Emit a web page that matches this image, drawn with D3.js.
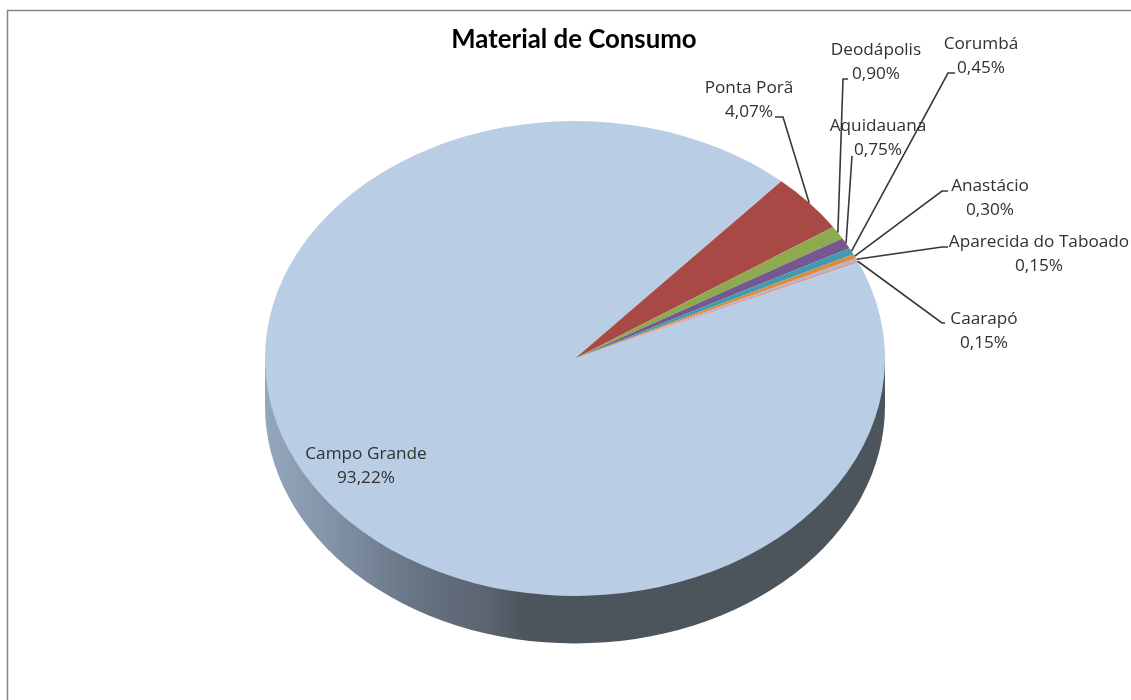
<!DOCTYPE html>
<html>
    <head>
        <title>Material de Consumo</title>
        <meta charset="UTF-8">
        <script src="https://d3js.org/d3.v7.min.js" charset="utf-8"></script>
        <style>
            html, body { margin: 0; padding: 0; background: #fff; }
            svg { display: block; }
            text { font-family: "Open Sans", sans-serif; font-size: 17.2px; fill: #303030; text-anchor: middle; }
            .title { font-family: Lato, sans-serif; font-weight: 700; font-size: 25.8px; fill: #000; }
        </style>
    </head>
    <body>
        <script>
            var categories = ["Campo Grande", "Ponta Porã", "Deodápolis", "Aquidauana", "Corumbá", "Anastácio", "Aparecida do Taboado", "Caarapó"];
            var values = [93.22, 4.07, 0.90, 0.75, 0.45, 0.30, 0.15, 0.15];
            var percentLabels = ["93,22%", "4,07%", "0,90%", "0,75%", "0,45%", "0,30%", "0,15%", "0,15%"];
            var colors = ["#b9cde5", "#a94a45", "#8eaa4f", "#75588f", "#3f9ab0", "#e08a3c", "#a3b6da", "#d79a98"];

            // label centre + first baseline, then the leader's elbow points (null = no leader)
            var labelPos = [[366, 459], [749, 93], [876, 55], [878, 131], [981, 49], [990, 191], [1039, 247], [984, 324]];
            var leaderEnds = [null,
                [[775, 117], [783, 117]],
                [[848, 79], [843, 79]],
                [[852, 156]],
                [[955, 73], [948, 73]],
                [[948, 191], [942, 191]],
                [[948, 247], [942, 247]],
                [[945, 323], [942, 323]]];

            var width = 1131, height = 700;
            var cx = 575, cy = 358.5, rx = 310, ry = 237.5, depth = 47.5;
            var startAngle = 66.1 * Math.PI / 180;

            var svg = d3.select("body").append("svg")
                .attr("width", width)
                .attr("height", height);

            var defs = svg.append("defs");
            // the reference is a slightly soft screenshot
            defs.append("filter").attr("id", "soft")
                .attr("filterUnits", "userSpaceOnUse")
                .attr("x", 0).attr("y", 0).attr("width", width).attr("height", height)
                .append("feGaussianBlur").attr("stdDeviation", 0.4);

            var grad = defs.append("linearGradient")
                .attr("id", "wall")
                .attr("gradientUnits", "userSpaceOnUse")
                .attr("x1", cx - rx).attr("x2", cx + rx)
                .attr("y1", 0).attr("y2", 0);
            [[0, "#95a7bd"], [0.12, "#8090a4"], [0.24, "#677484"], [0.36, "#5b6370"], [0.42, "#4d545c"], [1, "#4d545c"]].forEach(function(s){
                grad.append("stop").attr("offset", s[0]).attr("stop-color", s[1]);
            });

            var root = svg.append("g").attr("filter", "url(#soft)");

            // chart frame, only top and left show in the crop
            root.append("path")
                .attr("d", "M7.5,700V10.5H1131")
                .attr("fill", "none")
                .attr("stroke", "#868686")
                .attr("stroke-width", 1.5);

            // side wall of the 3D pie
            root.append("path")
                .attr("d", "M" + (cx - rx) + "," + cy + "V" + (cy + depth) +
                    "A" + rx + "," + ry + " 0 0 0 " + (cx + rx) + "," + (cy + depth) +
                    "V" + cy + "Z")
                .attr("fill", "url(#wall)");

            var pie = d3.pie().sort(null)
                .startAngle(startAngle)
                .endAngle(startAngle + 2 * Math.PI);
            var slices = pie(values);
            var arc = d3.arc().innerRadius(0).outerRadius(rx);

            var face = root.append("g")
                .attr("transform", "translate(" + cx + "," + cy + ") scale(1," + (ry / rx) + ")");
            face.selectAll("path")
                .data(slices)
                .enter().append("path")
                .attr("d", arc)
                .attr("fill", function(d, i){ return colors[i]; });

            function edgePoint(d){
                var a = (d.startAngle + d.endAngle) / 2;
                return [cx + rx * Math.sin(a), cy - ry * Math.cos(a)];
            }

            root.selectAll(".leader")
                .data(slices.filter(function(d){ return leaderEnds[d.index]; }))
                .enter().append("polyline")
                .attr("class", "leader")
                .attr("fill", "none")
                .attr("stroke", "#383838")
                .attr("stroke-width", 1.6)
                .attr("points", function(d){
                    return leaderEnds[d.index].concat([edgePoint(d)]).join(" ");
                });

            var labels = root.selectAll(".label")
                .data(categories)
                .enter().append("g")
                .attr("class", "label");
            labels.append("text")
                .attr("x", function(d, i){ return labelPos[i][0]; })
                .attr("y", function(d, i){ return labelPos[i][1]; })
                .text(function(d){ return d; });
            labels.append("text")
                .attr("x", function(d, i){ return labelPos[i][0]; })
                .attr("y", function(d, i){ return labelPos[i][1] + 24; })
                .text(function(d, i){ return percentLabels[i]; });

            root.append("text")
                .attr("class", "title")
                .attr("x", 574)
                .attr("y", 47.5)
                .text("Material de Consumo");
        </script>
    </body>
</html>
